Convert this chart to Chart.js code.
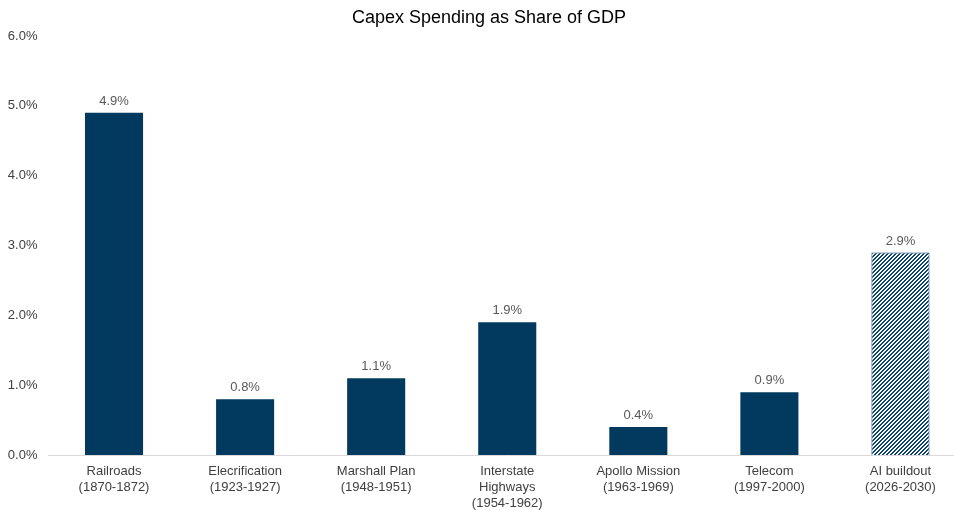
<!DOCTYPE html>
<html>
<head>
<meta charset="utf-8">
<script src="https://cdn.jsdelivr.net/npm/chart.js@4.4.1/dist/chart.umd.min.js"></script>
<style>
  html, body { margin: 0; padding: 0; background: #ffffff; overflow: hidden; }
  #wrap { width: 966px; height: 510px; }
</style>
</head>
<body>
<div id="wrap"><canvas id="c" width="966" height="510"></canvas></div>
<script>
const categories = [
  ['Railroads', '(1870-1872)'],
  ['Elecrification', '(1923-1927)'],
  ['Marshall Plan', '(1948-1951)'],
  ['Interstate', 'Highways', '(1954-1962)'],
  ['Apollo Mission', '(1963-1969)'],
  ['Telecom', '(1997-2000)'],
  ['AI buildout', '(2026-2030)']
];
const capexShare = [4.9, 0.8, 1.1, 1.9, 0.4, 0.9, 2.9];
const projected = [false, false, false, false, false, false, true];
const yTicks = [0, 1, 2, 3, 4, 5, 6];

const NAVY = '#013a5e';
const FONT = '"Liberation Sans", Arial, sans-serif';

function makeHatch() {
  const t = document.createElement('canvas');
  t.width = 4; t.height = 4;
  const g = t.getContext('2d');
  for (let x = 0; x < 4; x++) {
    for (let y = 0; y < 4; y++) {
      g.fillStyle = ((x + y) % 4 < 2) ? '#0b4670' : '#ffffff';
      g.fillRect(x, y, 1, 1);
    }
  }
  return g.createPattern(t, 'repeat');
}
const hatch = makeHatch();

const valueLabels = {
  id: 'valueLabels',
  afterDatasetsDraw(chart) {
    const ctx = chart.ctx;
    const meta = chart.getDatasetMeta(0);
    ctx.save();
    ctx.font = '13px ' + FONT;
    ctx.fillStyle = '#595959';
    ctx.textAlign = 'center';
    ctx.textBaseline = 'bottom';
    meta.data.forEach((bar, i) => {
      ctx.fillText(capexShare[i].toFixed(1) + '%', bar.x, bar.y - 5);
    });
    ctx.restore();
  }
};

new Chart(document.getElementById('c'), {
  type: 'bar',
  data: {
    labels: categories,
    datasets: [{
      data: capexShare,
      backgroundColor: projected.map(p => p ? hatch : NAVY),
      borderColor: NAVY,
      borderWidth: projected.map(p => p ? 1 : 0),
      categoryPercentage: 1.0,
      barPercentage: 0.443
    }]
  },
  options: {
    responsive: false,
    animation: false,
    layout: { padding: { left: 12, right: 0, top: 0, bottom: 0 } },
    plugins: {
      legend: { display: false },
      tooltip: { enabled: false },
      title: {
        display: true,
        text: 'Capex Spending as Share of GDP',
        color: '#000000',
        font: { family: FONT, size: 18, weight: 'normal' },
        padding: { top: 7, bottom: 7.4 }
      }
    },
    scales: {
      x: {
        grid: { display: false, drawTicks: false },
        border: { display: true, color: '#d9d9d9', width: 1 },
        ticks: {
          color: '#404040',
          font: { family: FONT, size: 13, lineHeight: 1.23 },
          padding: 8,
          maxRotation: 0,
          autoSkip: false
        },
        afterFit(scale) { scale.height = 55; }
      },
      y: {
        min: yTicks[0],
        max: yTicks[yTicks.length - 1],
        afterBuildTicks(scale) { scale.ticks = yTicks.map(v => ({ value: v })); },
        grid: { display: false, drawTicks: false },
        border: { display: false },
        ticks: {
          color: '#404040',
          font: { family: FONT, size: 13 },
          padding: 11,
          callback: v => Number(v).toFixed(1) + '%'
        },
        afterFit(scale) {
          scale.width = 36.5;
          scale._computeLabelArea = function () { return undefined; };
        }
      }
    }
  },
  plugins: [valueLabels]
});
</script>
</body>
</html>
